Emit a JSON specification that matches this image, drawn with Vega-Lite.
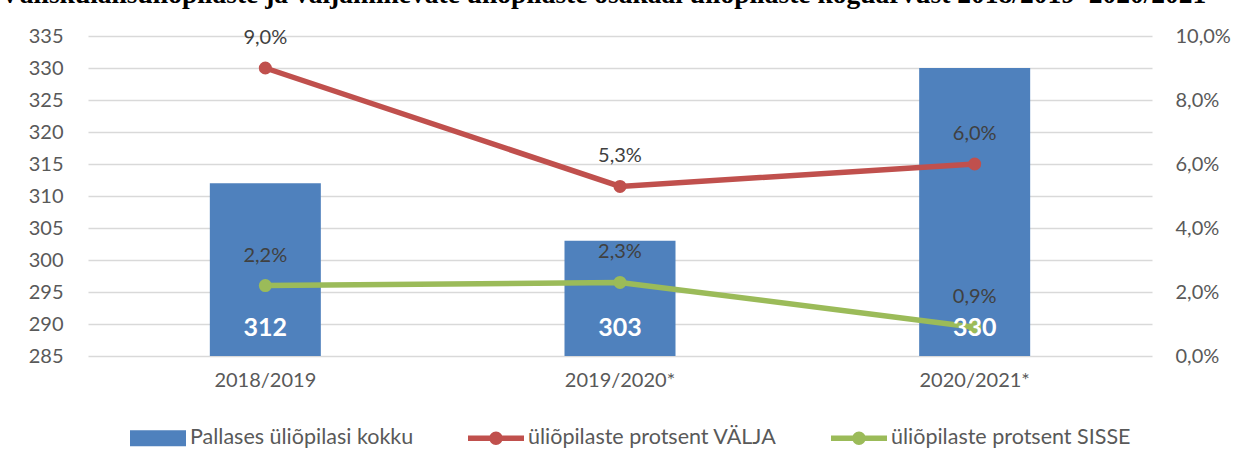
{
  "$schema": "https://vega.github.io/schema/vega-lite/v6.json",
  "width": 1064,
  "height": 320,
  "autosize": {"type": "none"},
  "padding": {"left": 88, "top": 36, "right": 98, "bottom": 114},
  "background": "white",
  "title": {
    "text": "Väliskülalisüliõpilaste ja väljaminevate üliõpilaste osakaal üliõpilaste koguarvust 2018/2019–2020/2021",
    "font": "Liberation Serif",
    "fontSize": 27.5,
    "fontWeight": "bold",
    "color": "black",
    "anchor": "start",
    "frame": "group",
    "dx": -88,
    "dy": -8,
    "offset": 10
  },
  "datasets": {
    "bars": [
      {"aasta": "2018/2019", "kokku": 312},
      {"aasta": "2019/2020*", "kokku": 303},
      {"aasta": "2020/2021*", "kokku": 330}
    ],
    "lines": [
      {"aasta": "2018/2019", "seeria": "üliõpilaste protsent VÄLJA", "protsent": 0.09},
      {"aasta": "2019/2020*", "seeria": "üliõpilaste protsent VÄLJA", "protsent": 0.053},
      {"aasta": "2020/2021*", "seeria": "üliõpilaste protsent VÄLJA", "protsent": 0.06},
      {"aasta": "2018/2019", "seeria": "üliõpilaste protsent SISSE", "protsent": 0.022},
      {"aasta": "2019/2020*", "seeria": "üliõpilaste protsent SISSE", "protsent": 0.023},
      {"aasta": "2020/2021*", "seeria": "üliõpilaste protsent SISSE", "protsent": 0.009}
    ]
  },
  "encoding": {
    "x": {
      "field": "aasta",
      "type": "nominal",
      "sort": ["2018/2019", "2019/2020*", "2020/2021*"],
      "scale": {"paddingInner": 0.687, "paddingOuter": 0.3435},
      "axis": {
        "title": null,
        "labelAngle": 0,
        "labelPadding": 14,
        "ticks": false,
        "domain": false,
        "labelFont": "Lato",
        "labelFontSize": 20,
        "labelColor": "#595959"
      }
    }
  },
  "layer": [
    {
      "data": {"name": "bars"},
      "mark": {"type": "bar", "color": "#4F81BD"},
      "encoding": {
        "y": {
          "field": "kokku",
          "type": "quantitative",
          "scale": {"domain": [285, 335], "zero": false, "nice": false},
          "axis": {
            "title": null,
            "values": [285, 290, 295, 300, 305, 310, 315, 320, 325, 330, 335],
            "grid": true,
            "gridColor": "#d9d9d9",
            "gridWidth": 1.3,
            "domain": false,
            "ticks": false,
            "labelPadding": 25,
            "labelFont": "Lato",
            "labelFontSize": 20,
            "labelColor": "#595959",
            "orient": "left"
          }
        },
        "y2": {"datum": 285},
        "color": {
          "datum": "Pallases üliõpilasi kokku",
          "type": "nominal",
          "scale": {
            "domain": ["Pallases üliõpilasi kokku", "üliõpilaste protsent VÄLJA", "üliõpilaste protsent SISSE"],
            "range": ["#4F81BD", "#C0504D", "#9BBB59"]
          },
          "legend": {
            "title": null,
            "orient": "none",
            "legendX": 42,
            "legendY": 374,
            "direction": "horizontal",
            "padding": 0,
            "labelFont": "Lato",
            "labelFontSize": 21.5,
            "labelColor": "#595959",
            "labelOffset": 4,
            "labelLimit": 0,
            "columnPadding": 54,
            "symbolSize": 3136,
            "encode": {
              "symbols": {
                "update": {
                  "shape": {"signal": "datum.value === 'Pallases üliõpilasi kokku' ? 'M-1,-0.29L1,-0.29L1,0.29L-1,0.29Z' : 'M-1,-0.1L1,-0.1L1,0.1L-1,0.1Z M-0.24,0A0.24,0.24 0 1,1 0.24,0A0.24,0.24 0 1,1 -0.24,0Z'"},
                  "fill": {"signal": "scale('color', datum.value)"},
                  "fillOpacity": {"value": 1},
                  "opacity": {"value": 1},
                  "stroke": {"value": "transparent"},
                  "strokeWidth": {"value": 0},
                  "size": {"value": 3136}
                }
              }
            }
          }
        }
      }
    },
    {
      "data": {"name": "lines"},
      "mark": {"type": "line", "strokeWidth": 5.5, "point": {"filled": true, "size": 170, "opacity": 1}},
      "encoding": {
        "y": {
          "field": "protsent",
          "type": "quantitative",
          "scale": {"domain": [0, 0.1], "nice": false},
          "axis": {
            "title": null,
            "orient": "right",
            "values": [0, 0.02, 0.04, 0.06, 0.08, 0.1],
            "format": ".1%",
            "grid": false,
            "domain": false,
            "ticks": false,
            "labelPadding": 23,
            "labelFont": "Lato",
            "labelFontSize": 20,
            "labelColor": "#595959"
          }
        },
        "color": {
          "field": "seeria",
          "type": "nominal",
          "scale": {
            "domain": ["Pallases üliõpilasi kokku", "üliõpilaste protsent VÄLJA", "üliõpilaste protsent SISSE"],
            "range": ["#4F81BD", "#C0504D", "#9BBB59"]
          },
          "legend": {"title": null, "labelLimit": 0}
        }
      }
    },
    {
      "data": {"name": "bars"},
      "mark": {"type": "text", "color": "white", "font": "Lato", "fontSize": 25, "fontWeight": "bold", "baseline": "middle", "dy": -28},
      "encoding": {
        "y": {"datum": 285, "type": "quantitative", "scale": {"domain": [285, 335], "zero": false, "nice": false}, "axis": null},
        "text": {"field": "kokku", "type": "quantitative"}
      }
    },
    {
      "data": {"name": "lines"},
      "mark": {"type": "text", "color": "#404040", "font": "Lato", "fontSize": 20, "baseline": "middle", "dy": -30},
      "encoding": {
        "y": {"field": "protsent", "type": "quantitative", "scale": {"domain": [0, 0.1], "nice": false}, "axis": null},
        "text": {"field": "protsent", "type": "quantitative", "format": ".1%"}
      }
    }
  ],
  "resolve": {"scale": {"y": "independent"}},
  "config": {
    "view": {"stroke": null},
    "locale": {"number": {"decimal": ",", "thousands": " ", "grouping": [3], "currency": ["", " €"]}}
  }
}
